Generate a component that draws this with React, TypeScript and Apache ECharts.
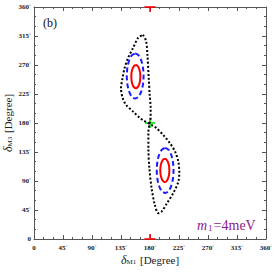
import React, { useEffect, useRef } from "react";
import * as echarts from "echarts";

const tickValues = [0, 45, 90, 135, 180, 225, 270, 315, 360];

const blackContour: [number, number][] = [
  [169, 317], [174, 307], [176, 286], [178, 250], [179.5, 224], [181, 203], [181, 188],
  [179, 178], [177.5, 165], [177.5, 141], [179, 110], [182.5, 79], [187.5, 53], [193, 40],
  [198, 42.5], [206, 55], [216, 71], [224, 89], [225.5, 104], [224, 120], [219, 135.5],
  [211, 148.5], [200.5, 161.5], [190, 172], [180.5, 178], [170, 184], [164, 188],
  [153.5, 198], [143, 208], [137.5, 219], [135, 234], [137.5, 250], [140.5, 265],
  [146, 281], [153.5, 296], [161.5, 312], [169, 317],
];

const blueUpper: [number, number][] = [
  [157, 288], [162, 285.3], [166.2, 277.7], [169, 266.4], [170, 253], [169, 239.6],
  [166.2, 228.3], [162, 220.7], [157, 218], [152, 220.7], [147.8, 228.3], [145, 239.6],
  [144, 253], [145, 266.4], [147.8, 277.7], [152, 285.3], [157, 288],
];

const blueLower: [number, number][] = [
  [203.5, 141.5], [208.5, 138.8], [212.7, 131.2], [215.5, 119.9], [216.5, 106.5],
  [215.5, 93.1], [212.7, 81.8], [208.5, 74.2], [203.5, 71.5], [198.5, 74.2], [194.3, 81.8],
  [191.5, 93.1], [190.5, 106.5], [191.5, 119.9], [194.3, 131.2], [198.5, 138.8], [203.5, 141.5],
];

const redUpper: [number, number][] = [
  [158, 270], [160.7, 268.6], [162.9, 264.7], [164.5, 258.9], [165, 252], [164.5, 245.1],
  [162.9, 239.3], [160.7, 235.4], [158, 234], [155.3, 235.4], [153.1, 239.3], [151.5, 245.1],
  [151, 252], [151.5, 258.9], [153.1, 264.7], [155.3, 268.6], [158, 270],
];

const redLower: [number, number][] = [
  [203, 124.5], [205.7, 123.1], [207.9, 119.2], [209.5, 113.4], [210, 106.5], [209.5, 99.6],
  [207.9, 93.8], [205.7, 89.9], [203, 88.5], [200.3, 89.9], [198.1, 93.8], [196.5, 99.6],
  [196, 106.5], [196.5, 113.4], [198.1, 119.2], [200.3, 123.1], [203, 124.5],
];

const redBottomMarker: [number, number] = [180, 0];
const redTopMarker: [number, number] = [180, 360];
const greenMarker: [number, number] = [180, 180];

const SERIF = "'Liberation Serif', 'DejaVu Serif', serif";

function tickLabel(v: number) {
  return v === 0 ? "0" : `${v}{d|°}`;
}

const baseAxis = (position: string, showLabel: boolean, isX: boolean) => ({
  type: "value",
  min: 0,
  max: 360,
  interval: 45,
  position,
  axisLine: { show: true, onZero: false, lineStyle: { color: "#555", width: 1 } },
  axisTick: { show: true, inside: true, length: 4, lineStyle: { color: "#555", width: 1 } },
  minorTick: { show: true, splitNumber: 3, length: 2, lineStyle: { color: "#555", width: 1 } },
  splitLine: { show: false },
  axisLabel: {
    show: showLabel,
    formatter: tickLabel,
    margin: isX ? 5 : 3,
    fontFamily: SERIF,
    fontSize: 7,
    fontWeight: "bold",
    color: "#222",
    rich: { d: { fontSize: 5, fontFamily: SERIF, color: "#222", padding: [0, 0, 3, 0] } },
  },
});

const nameRich = {
  i: { fontFamily: SERIF, fontSize: 12, fontStyle: "italic", fill: "#222" },
  s: { fontFamily: SERIF, fontSize: 7, fill: "#222", padding: [4, 1, 0, 0] },
  n: { fontFamily: SERIF, fontSize: 11, fill: "#222" },
};

export default function App() {
  const ref = useRef<HTMLDivElement>(null);
  useEffect(() => {
    if (!ref.current) return;
    const chart = echarts.init(ref.current, undefined, { renderer: "svg" });
    const lineSeries = (data: [number, number][], color: string, type: any, width: number) => ({
      type: "line",
      data,
      showSymbol: false,
      symbol: "none",
      smooth: 0.3,
      silent: true,
      lineStyle: { color, type, width },
    });
    chart.setOption({
      animation: false,
      backgroundColor: "#fff",
      grid: {
        left: 34,
        right: 9,
        top: 7,
        bottom: 33,
        containLabel: false,
        outerBoundsMode: "none",
      },
      xAxis: [baseAxis("bottom", true, true), baseAxis("top", false, true)],
      yAxis: [baseAxis("left", true, false), baseAxis("right", false, false)],
      series: [
        lineSeries(blackContour, "#000", [2, 2], 2),
        lineSeries(blueUpper, "#1a1aff", [5, 3], 2),
        lineSeries(blueLower, "#1a1aff", [5, 3], 2),
        lineSeries(redUpper, "#ff0000", "solid", 2),
        lineSeries(redLower, "#ff0000", "solid", 2),
        {
          type: "scatter",
          clip: false,
          silent: true,
          data: [
            {
              value: redBottomMarker,
              symbol: "path://M0,4H11V6H0Z M4.5,0H6.5V4H4.5Z",
              symbolSize: [11, 6],
              symbolOffset: [0, -2],
              itemStyle: { color: "#ff0000" },
            },
            {
              value: redTopMarker,
              symbol: "path://M0,0H11V2H0Z M4.5,2H6.5V6H4.5Z",
              symbolSize: [11, 6],
              symbolOffset: [0, 2],
              itemStyle: { color: "#ff0000" },
            },
            {
              value: greenMarker,
              symbol: "path://M4,0H6V4H10V6H6V10H4V6H0V4H4Z",
              symbolSize: 10,
              itemStyle: { color: "#00dd00" },
            },
          ],
        },
      ],
      graphic: [
        {
          type: "text",
          x: 43,
          y: 23,
          style: {
            text: "(b)",
            font: `12px ${SERIF}`,
            fill: "#111",
            verticalAlign: "middle",
            align: "left",
          },
        },
        {
          type: "text",
          x: 150,
          y: 260,
          style: {
            text: "{i|δ}{s|M1}{n| [Degree]}",
            align: "center",
            verticalAlign: "middle",
            rich: nameRich,
          },
        },
        {
          type: "text",
          x: 8,
          y: 123,
          rotation: Math.PI / 2,
          style: {
            text: "{i|δ}{s|M3}{n| [Degree]}",
            align: "center",
            verticalAlign: "middle",
            rich: nameRich,
          },
        },
        {
          type: "text",
          x: 197,
          y: 225,
          style: {
            text: "{i|m}{s|1}{n|=4meV}",
            fill: "#8b1a8b",
            verticalAlign: "middle",
            align: "left",
            rich: {
              i: { fontFamily: SERIF, fontSize: 14, fontStyle: "italic", fill: "#8b1a8b" },
              s: { fontFamily: SERIF, fontSize: 9, fill: "#8b1a8b", padding: [6, 1, 0, 1] },
              n: { fontFamily: SERIF, fontSize: 14, fill: "#8b1a8b" },
            },
          },
        },
      ],
    });
    return () => chart.dispose();
  }, []);
  return (
    <div
      ref={ref}
      style={{ position: "absolute", left: 0, top: 0, width: 275, height: 272 }}
    />
  );
}
